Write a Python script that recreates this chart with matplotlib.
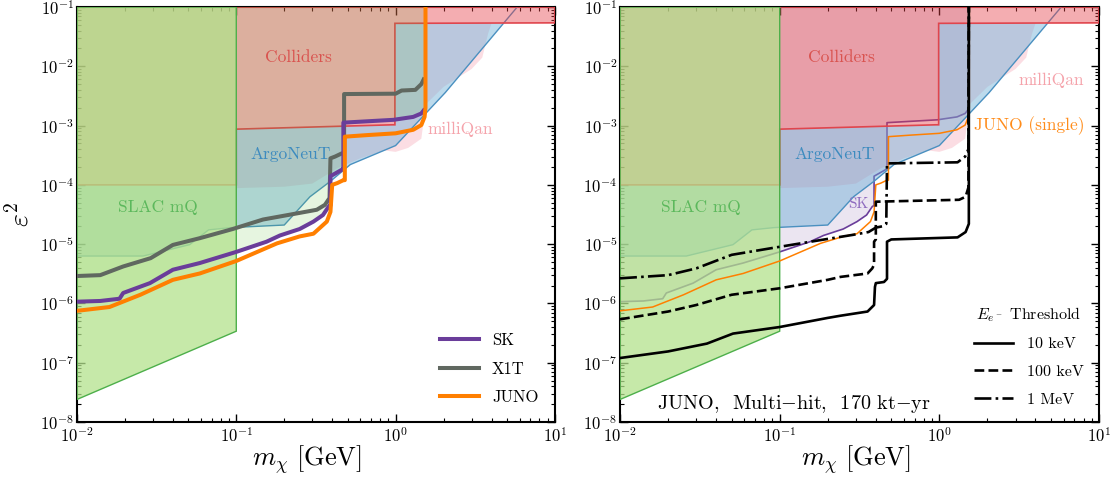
import numpy as np
import matplotlib
matplotlib.use("Agg")
import matplotlib.pyplot as plt
from matplotlib.lines import Line2D

plt.rcParams['font.family'] = 'serif'
plt.rcParams['font.serif'] = ['cmr10']
plt.rcParams['mathtext.fontset'] = 'cm'
plt.rcParams['axes.unicode_minus'] = False
plt.rcParams['axes.formatter.use_mathtext'] = True

# ── Existing constraints (mass in GeV, epsilon^2) ───────────────────────────
slac_m = [0.01, 0.1, 0.1, 0.01]
slac_e = [2.4e-8, 3.4e-7, 0.1, 0.1]

coll_low_m = [0.01, 0.1, 0.1, 0.95, 0.99, 0.99, 10.0]
coll_low_e = [1e-4, 1e-4, 8.7e-4, 1.03e-3, 1.03e-3, 5.3e-2, 5.4e-2]

argo_m = [0.01, 0.026, 0.051, 0.067, 0.092, 0.2, 0.29, 0.39, 0.52, 1.0, 2.05, 5.8]
argo_e = [6.3e-6, 6.3e-6, 9.8e-6, 1.74e-5, 1.9e-5, 2.1e-5, 6.3e-5, 1.15e-4,
          2.2e-4, 4.6e-4, 3.6e-3, 0.1]

mq_m = [0.1, 0.2, 0.3, 0.43, 0.6, 0.85, 1.0, 1.2, 1.45, 1.55, 2.0, 3.0, 3.5, 3.8, 4.0]
mq_e = [8.8e-5, 9.3e-5, 1.05e-4, 1.9e-4, 2.8e-4, 3.8e-4, 3.6e-4, 4.2e-4, 6e-4,
        2.3e-3, 4.5e-3, 9e-3, 1.4e-2, 3.5e-2, 5.3e-2]

# ── Projected sensitivities ─────────────────────────────────────────────────
sk_m = [0.01, 0.014, 0.0185, 0.0195, 0.0287, 0.04, 0.059, 0.1, 0.155, 0.188,
        0.25, 0.305, 0.35, 0.38, 0.39, 0.39, 0.46, 0.47, 0.47, 0.97, 1.29, 1.45, 1.5]
sk_e = [1.07e-6, 1.1e-6, 1.2e-6, 1.5e-6, 2.2e-6, 3.7e-6, 4.8e-6, 7.4e-6, 1.1e-5,
        1.4e-5, 1.8e-5, 2.4e-5, 3.1e-5, 4.3e-5, 4.5e-5, 1.4e-4, 1.8e-4, 1.85e-4,
        1.12e-3, 1.25e-3, 1.4e-3, 1.6e-3, 1.8e-3]

x1t_m = [0.01, 0.014, 0.0195, 0.029, 0.04, 0.059, 0.095, 0.147, 0.24, 0.32, 0.36,
         0.385, 0.39, 0.417, 0.46, 0.475, 0.475, 1.0, 1.09, 1.33, 1.45, 1.5]
x1t_e = [2.9e-6, 3.0e-6, 4.2e-6, 5.8e-6, 9.7e-6, 1.26e-5, 1.8e-5, 2.6e-5, 3.3e-5,
         3.8e-5, 4.6e-5, 6e-5, 2.8e-4, 3.0e-4, 3.4e-4, 3.4e-4, 3.4e-3, 3.45e-3,
         3.9e-3, 4.0e-3, 5.0e-3, 6.0e-3]

juno_m = [0.01, 0.016, 0.025, 0.04, 0.059, 0.1, 0.18, 0.25, 0.305, 0.37, 0.39, 0.40,
          0.43, 0.47, 0.48, 0.48, 0.66, 1.0, 1.29, 1.45, 1.52, 1.54, 1.54]
juno_e = [7.5e-7, 8.7e-7, 1.4e-6, 2.5e-6, 3.2e-6, 5.2e-6, 1.03e-5, 1.35e-5, 1.5e-5,
          2.4e-5, 3.5e-5, 1.0e-4, 1.07e-4, 1.2e-4, 1.2e-4, 6.5e-4, 6.9e-4, 7.4e-4,
          8.5e-4, 1.02e-3, 1.4e-3, 2e-3, 0.1]

# JUNO multi-hit, per electron threshold
t10_m = [0.01, 0.02, 0.035, 0.051, 0.1, 0.2, 0.24, 0.355, 0.39, 0.395, 0.40, 0.45,
         0.47, 0.47, 0.5, 1.3, 1.46, 1.53, 1.53]
t10_e = [1.2e-7, 1.55e-7, 2.1e-7, 3.1e-7, 4.0e-7, 5.7e-7, 6.2e-7, 7.3e-7, 9.4e-7,
         1.9e-6, 2.2e-6, 2.3e-6, 2.6e-6, 1.1e-5, 1.2e-5, 1.3e-5, 1.6e-5, 2.2e-5, 0.1]

t100_m = [0.01, 0.02, 0.03, 0.05, 0.1, 0.2, 0.24, 0.355, 0.38, 0.39, 0.39, 0.40,
          0.40, 1.33, 1.46, 1.52, 1.53]
t100_e = [5.4e-7, 7.3e-7, 9.4e-7, 1.4e-6, 1.8e-6, 2.5e-6, 2.8e-6, 3.2e-6, 3.9e-6,
          4.5e-6, 1.1e-5, 1.2e-5, 5.2e-5, 5.6e-5, 6.3e-5, 9e-5, 0.1]

t1m_m = [0.01, 0.02, 0.03, 0.05, 0.0875, 0.18, 0.29, 0.36, 0.40, 0.44, 0.465, 0.47,
         1.3, 1.45, 1.52, 1.53]
t1m_e = [2.65e-6, 3.0e-6, 3.9e-6, 6.6e-6, 8.5e-6, 1.17e-5, 1.44e-5, 1.6e-5, 1.9e-5,
         2.0e-5, 2.2e-5, 2.3e-4, 2.4e-4, 3.0e-4, 4e-4, 0.1]

XMIN, XMAX, YMIN, YMAX = 1e-2, 1e1, 1e-8, 1e-1
y_decades = 10.0 ** np.arange(-8, 0)


def below_colliders(lm, le):
    """Polygon between a lower curve and the colliders' lower edge."""
    lo, hi = lm[0], lm[-1]
    cm = [m for m in coll_low_m if lo <= m <= hi]
    ce = [e for m, e in zip(coll_low_m, coll_low_e) if lo <= m <= hi]
    xs = list(lm) + [hi] + cm[::-1]
    ys = list(le) + [le[-1]] + ce[::-1]
    return xs, ys


def argo_clip():
    """ArgoNeuT curve cut where it reaches the colliders' horizontal edge."""
    level = coll_low_e[-2]
    lx, ly = np.log10(argo_m), np.log10(argo_e)
    k = int(np.argmax(np.array(argo_e) > level))
    f = (np.log10(level) - ly[k - 1]) / (ly[k] - ly[k - 1])
    xc = 10 ** (lx[k - 1] + f * (lx[k] - lx[k - 1]))
    return list(argo_m[:k]) + [xc], list(argo_e[:k]) + [level]


def draw_constraints(ax, skfill, skz):
    # region above the SK curve
    ax.fill(list(sk_m) + [sk_m[-1], sk_m[0]], list(sk_e) + [YMAX, YMAX],
            facecolor=skfill, edgecolor='none', zorder=skz)
    # milliQan
    xs, ys = below_colliders(mq_m, mq_e)
    ax.fill(xs, ys, facecolor=(0.93, 0.35, 0.45, 0.2), edgecolor='none', zorder=2)
    # ArgoNeuT
    am, ae = argo_clip()
    xs, ys = below_colliders(am, ae)
    ax.fill(xs, ys, facecolor=(0.42, 0.68, 0.84, 0.45), edgecolor='none', zorder=3)
    ax.plot(argo_m, argo_e, color='#4a90c0', lw=1.0, zorder=3.1)
    # Colliders
    ax.fill(list(coll_low_m) + [XMAX, XMIN], list(coll_low_e) + [YMAX, YMAX],
            facecolor=(0.9, 0.24, 0.27, 0.42), edgecolor='#e0454d', lw=1.2, zorder=4)
    # SLAC mQ
    ax.fill(slac_m, slac_e, facecolor=(0.70, 0.886, 0.55, 0.75),
            edgecolor='#4daf4a', lw=1.0, zorder=5)

    ax.text(0.032, 4.1e-5, 'SLAC mQ', color='#5cb85c', fontsize=12.5,
            ha='center', va='center', zorder=6)
    ax.text(0.245, 1.4e-2, 'Colliders', color='#d9534f', fontsize=12.5,
            ha='center', va='center', zorder=6)
    ax.text(0.22, 3.3e-4, 'ArgoNeuT', color='#3d8bbf', fontsize=12.5,
            ha='center', va='center', zorder=6)


def style(ax, xlab_x):
    ax.set_xscale('log')
    ax.set_yscale('log')
    ax.set_xlim(XMIN, XMAX)
    ax.set_ylim(YMIN, YMAX)
    ax.set_yticks(y_decades)
    ax.yaxis.set_minor_locator(matplotlib.ticker.LogLocator(base=10, subs=np.arange(2, 10), numticks=20))
    ax.yaxis.set_minor_formatter(matplotlib.ticker.NullFormatter())
    ax.set_ylim(YMIN, YMAX)
    ax.tick_params(which='both', direction='in', top=True, right=True,
                   labelsize=12)
    ax.tick_params(which='major', length=6, width=1.0)
    ax.tick_params(which='minor', length=3, width=0.8)
    ax.tick_params(axis='y', pad=2)
    ax.tick_params(axis='x', pad=3)
    for s in ax.spines.values():
        s.set_linewidth(1.5)
    ax.set_xlabel(r'$m_\chi\ [\mathrm{GeV}]$', fontsize=19)
    ax.xaxis.set_label_coords(xlab_x, -0.05)


fig = plt.figure(figsize=(11.17, 4.79), dpi=100)
ax1 = fig.add_axes([0.0689, 0.119, 0.4279, 0.8664])
ax2 = fig.add_axes([0.5551, 0.119, 0.4288, 0.8664])

# ── Left panel ───────────────────────────────────────────────────────────────
draw_constraints(ax1, (0.35, 0.75, 0.2, 0.15), 4.5)
ax1.text(2.55, 8.5e-4, 'milliQan', color='#f5a3ab', fontsize=12.5,
         ha='center', va='center', zorder=6)
ax1.plot(sk_m, sk_e, color='#6a3d9a', lw=2.9, zorder=10, label='SK')
ax1.plot(x1t_m, x1t_e, color='#606860', lw=2.9, zorder=9, label='X1T')
ax1.plot(juno_m, juno_e, color='#ff7f00', lw=2.9, zorder=11, label='JUNO')
ax1.legend(loc='lower right', frameon=False, fontsize=12, handlelength=2.3,
           handletextpad=0.8, labelspacing=0.8, borderaxespad=0.6)
ax1.set_ylabel(r'$\varepsilon^2$', fontsize=20, labelpad=4)
style(ax1, 0.48)

# ── Right panel ──────────────────────────────────────────────────────────────
ax2.plot(sk_m, sk_e, color='#6a3d9a', lw=1.2, zorder=1.5)
draw_constraints(ax2, (0.42, 0.24, 0.6, 0.13), 1)
ax2.text(5.0, 5.9e-3, 'milliQan', color='#f5a3ab', fontsize=12.5,
         ha='center', va='center', zorder=6)
ax2.text(0.31, 4.8e-5, 'SK', color='#8e6bbf', fontsize=11,
         ha='center', va='center', zorder=6)
ax2.text(1.64, 1.0e-3, 'JUNO (single)', color='#ff8c1a', fontsize=12.5,
         ha='left', va='center', zorder=6)
ax2.plot(juno_m, juno_e, color='#ff7f00', lw=1.1, zorder=9)
ax2.plot(t10_m, t10_e, color='black', lw=1.9, ls='-', zorder=10)
ax2.plot(t100_m, t100_e, color='black', lw=1.9, ls='--', zorder=10)
ax2.plot(t1m_m, t1m_e, color='black', lw=1.9, ls='-.', zorder=10)
handles = [Line2D([], [], color='black', lw=1.9, ls=s) for s in ['-', '--', '-.']]
ax2.legend(handles, ['10 keV', '100 keV', '1 MeV'], loc='lower right',
           frameon=False, fontsize=11.5, title=r'$E_{e^-}$ Threshold',
           title_fontsize=11.5, handlelength=2.4, handletextpad=0.9,
           labelspacing=0.85, borderaxespad=0.55)
ax2.text(0.0766, 0.043, r'JUNO,  Multi$-$hit,  170 kt$-$yr', transform=ax2.transAxes,
         fontsize=14.5, ha='left', va='center', zorder=12)
style(ax2, 0.493)

fig.savefig('out.png', dpi=100)
